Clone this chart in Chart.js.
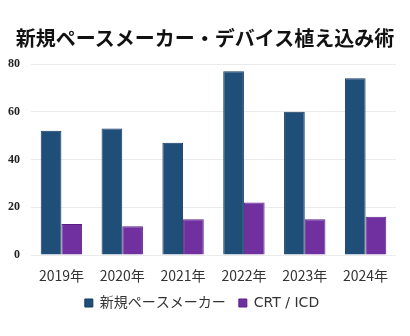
<!DOCTYPE html>
<html>
<head>
<meta charset="utf-8">
<script src="https://cdn.jsdelivr.net/npm/chart.js@4"></script>
<style>
  html, body { margin: 0; padding: 0; background: #fff; }
  #wrap { position: relative; width: 410px; height: 336px; }
  #title {
    position: absolute; left: 0; top: 25px; width: 410px; text-align: center;
    font: bold 20px 'Noto Sans CJK JP', sans-serif; color: #111; line-height: 26px;
  }
</style>
</head>
<body>
<div id="wrap">
  <canvas id="myChart"></canvas>
  <div id="title">新規ペースメーカー・デバイス植え込み術</div>
</div>
<script>
years = ["2019年", "2020年", "2021年", "2022年", "2023年", "2024年"];
pacemaker = [52, 53, 47, 77, 60, 74];
crtIcd = [13, 12, 15, 22, 15, 16];
yTicks = [0, 20, 40, 60, 80];

const jp = "'Noto Sans CJK JP', 'Noto Sans', sans-serif";

new Chart(document.getElementById('myChart'), {
  type: 'bar',
  data: {
    labels: years,
    datasets: [{
      label: "新規ペースメーカー",
      data: pacemaker,
      backgroundColor: "#1f4e79",
      borderColor: "#123a60",
      borderWidth: 1,
      categoryPercentage: 0.68,
      barPercentage: 1.0
    }, {
      label: "CRT / ICD",
      data: crtIcd,
      backgroundColor: "#7030a0",
      borderColor: "#5a2088",
      borderWidth: 1,
      categoryPercentage: 0.68,
      barPercentage: 1.0
    }]
  },
  options: {
    responsive: true,
    maintainAspectRatio: false,
    animation: false,
    layout: { padding: { left: 8, right: 14, top: 64, bottom: 16 } },
    plugins: {
      title: { display: false },
      legend: {
        position: 'bottom',
        labels: {
          color: "#333",
          font: { family: "'DejaVu Sans', " + jp, size: 14 },
          boxWidth: 8,
          boxHeight: 8,
          padding: 13
        }
      },
      tooltip: { enabled: false }
    },
    scales: {
      x: {
        grid: { display: false, drawTicks: false },
        border: { display: false },
        afterFit: axis => { axis.height = 28; },
        ticks: { color: "#333", padding: 12, font: { family: jp, size: 14 } }
      },
      y: {
        min: 0,
        max: 80,
        afterBuildTicks: axis => { axis.ticks = yTicks.map(v => ({ value: v })); },
        afterFit: axis => { axis.width = 23; },
        grid: { color: "#ebebeb", lineWidth: 1, drawTicks: false },
        border: { display: false },
        ticks: {
          color: "#222",
          padding: 11,
          font: { family: "'Liberation Serif', serif", size: 12, weight: 'bold' }
        }
      }
    }
  }
});
</script>
</body>
</html>
